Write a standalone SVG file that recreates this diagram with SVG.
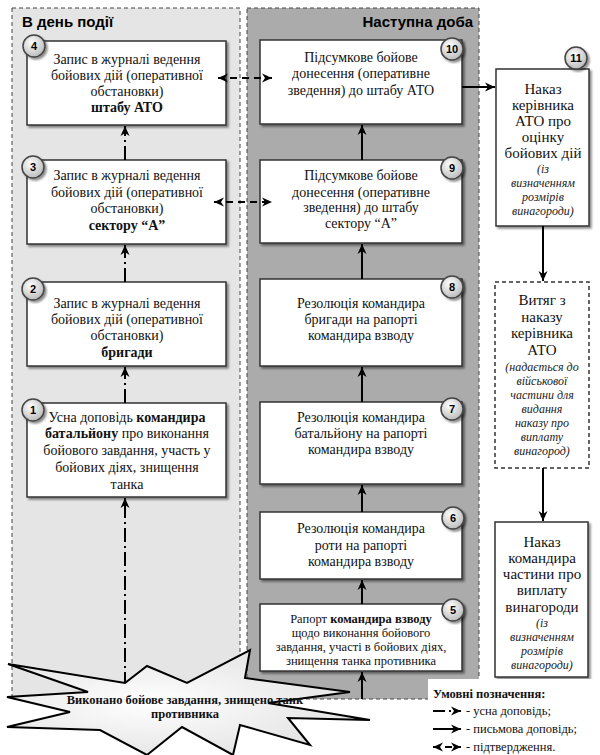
<svg xmlns="http://www.w3.org/2000/svg" width="600" height="755" viewBox="0 0 600 755">
<defs>
  <filter id="sh" x="-10%" y="-10%" width="125%" height="125%">
    <feDropShadow dx="2" dy="2" stdDeviation="1.2" flood-color="#000" flood-opacity="0.45"/>
  </filter>
  <radialGradient id="cg" cx="40%" cy="35%" r="70%">
    <stop offset="0" stop-color="#ffffff"/>
    <stop offset="1" stop-color="#b8b8b8"/>
  </radialGradient>
  <radialGradient id="bg" cx="40%" cy="50%" r="60%">
    <stop offset="0" stop-color="#ffffff"/>
    <stop offset="1" stop-color="#e2e2e2"/>
  </radialGradient>
  <marker id="ah" viewBox="0 0 10 10" refX="10" refY="5" markerWidth="10" markerHeight="10" markerUnits="userSpaceOnUse" orient="auto-start-reverse">
    <path d="M0,0.5 L10,5 L0,9.5 L3,5 Z" fill="#000"/>
  </marker>
  <style>
    .panel { stroke: #444; stroke-width: 1; stroke-dasharray: 4 3; }
    .box { fill: #fff; stroke: #333; stroke-width: 1.5; filter: url(#sh); }
    .dbox { fill: #fff; stroke: #333; stroke-width: 1.5; stroke-dasharray: 4 3; }
    .num circle { fill: url(#cg); stroke: #444; stroke-width: 1.5; filter: url(#sh); }
    .num text { font-family: "Liberation Sans", Arial, sans-serif; font-weight: bold; font-size: 11px; text-anchor: middle; fill: #000; }
    .t { font-size: 14px; text-anchor: middle; fill: #111; }
    .ts { font-size: 12.5px; text-anchor: middle; fill: #111; }
    .tb { font-size: 15px; text-anchor: middle; fill: #111; }
    .ti { font-size: 12px; font-style: italic; text-anchor: middle; fill: #222; }
    .b { font-weight: bold; }
    .hd { font-family: "Liberation Sans", Arial, sans-serif; font-weight: bold; font-size: 15px; fill: #000; }
    .solid { stroke: #000; stroke-width: 2; fill: none; marker-end: url(#ah); }
    .dd { stroke: #000; stroke-width: 2; fill: none; stroke-dasharray: 14 4 2 4; marker-end: url(#ah); }
    .dsh { stroke: #000; stroke-width: 2; fill: none; stroke-dasharray: 7 5; marker-end: url(#ah); marker-start: url(#ah); }
    .lg { font-size: 12.5px; fill: #111; }
  </style>
</defs>

<g id="panels">
  <rect x="12" y="8" width="228" height="691" fill="#e5e5e5" class="panel"/>
  <rect x="247" y="8" width="232" height="691" fill="#ababab" class="panel"/>
  <text x="22" y="27" class="hd">В день події</text>
  <text x="473" y="27" class="hd" text-anchor="end">Наступна доба</text>
</g>

<g font-family="'Liberation Serif', Tinos, 'Times New Roman', 'DejaVu Serif', serif">
<g id="node4">
  <rect x="27" y="41" width="199" height="84" class="box"/>
  <text class="t"><tspan x="127" y="64">Запис в журналі ведення</tspan><tspan x="127" y="80">бойових дій (оперативної</tspan><tspan x="127" y="96">обстановки)</tspan><tspan x="127" y="112" class="b">штабу АТО</tspan></text>
  <g class="num"><circle cx="34" cy="46" r="11"/><text x="34" y="50">4</text></g>
</g>

<g id="node3">
  <rect x="27" y="160" width="199" height="84" class="box"/>
  <text class="t"><tspan x="127" y="180">Запис в журналі ведення</tspan><tspan x="127" y="197">бойових дій (оперативної</tspan><tspan x="127" y="213">обстановки)</tspan><tspan x="127" y="230" class="b">сектору “А”</tspan></text>
  <g class="num"><circle cx="33" cy="167" r="11"/><text x="33" y="171">3</text></g>
</g>

<g id="node2">
  <rect x="27" y="282" width="199" height="84" class="box"/>
  <text class="t"><tspan x="127" y="308">Запис в журналі ведення</tspan><tspan x="127" y="324">бойових дій (оперативної</tspan><tspan x="127" y="340">обстановки)</tspan><tspan x="127" y="357" class="b">бригади</tspan></text>
  <g class="num"><circle cx="33" cy="289" r="11"/><text x="33" y="293">2</text></g>
</g>

<g id="node1">
  <rect x="27" y="403" width="199" height="94" class="box"/>
  <text class="t"><tspan x="127" y="422">Усна доповідь <tspan class="b">командира</tspan></tspan><tspan x="127" y="438"><tspan class="b">батальйону</tspan> про виконання</tspan><tspan x="127" y="455">бойового завдання, участь у</tspan><tspan x="127" y="472">бойових діях, знищення</tspan><tspan x="127" y="489">танка</tspan></text>
  <g class="num"><circle cx="33" cy="410" r="11"/><text x="33" y="414">1</text></g>
</g>

<g id="node10">
  <rect x="260" y="40" width="202" height="84" class="box"/>
  <text class="t"><tspan x="361" y="62">Підсумкове бойове</tspan><tspan x="361" y="78">донесення (оперативне</tspan><tspan x="361" y="95">зведення) до штабу АТО</tspan></text>
  <g class="num"><circle cx="452" cy="49" r="11"/><text x="452" y="53">10</text></g>
</g>

<g id="node9">
  <rect x="260" y="160" width="202" height="83" class="box"/>
  <text class="t"><tspan x="361" y="180">Підсумкове бойове</tspan><tspan x="361" y="197">донесення (оперативне</tspan><tspan x="361" y="212">зведення) до штабу</tspan><tspan x="361" y="228">сектору “А”</tspan></text>
  <g class="num"><circle cx="452" cy="168" r="11"/><text x="452" y="172">9</text></g>
</g>

<g id="node8">
  <rect x="260" y="279" width="202" height="87" class="box"/>
  <text class="t"><tspan x="361" y="308">Резолюція командира</tspan><tspan x="361" y="324">бригади на рапорті</tspan><tspan x="361" y="340">командира взводу</tspan></text>
  <g class="num"><circle cx="452" cy="287" r="11"/><text x="452" y="291">8</text></g>
</g>

<g id="node7">
  <rect x="260" y="402" width="202" height="82" class="box"/>
  <text class="t"><tspan x="361" y="422">Резолюція командира</tspan><tspan x="361" y="438">батальйону на рапорті</tspan><tspan x="361" y="454">командира взводу</tspan></text>
  <g class="num"><circle cx="452" cy="409" r="11"/><text x="452" y="413">7</text></g>
</g>

<g id="node6">
  <rect x="260" y="512" width="202" height="67" class="box"/>
  <text class="t"><tspan x="361" y="533">Резолюція командира</tspan><tspan x="361" y="550">роти на рапорті</tspan><tspan x="361" y="566">командира взводу</tspan></text>
  <g class="num"><circle cx="453" cy="518" r="11"/><text x="453" y="522">6</text></g>
</g>

<g id="node5">
  <rect x="260" y="604" width="202" height="67" class="box"/>
  <text class="ts"><tspan x="361" y="623">Рапорт <tspan class="b">командира взводу</tspan></tspan><tspan x="361" y="637">щодо виконання бойового</tspan><tspan x="361" y="651">завдання, участі в бойових діях,</tspan><tspan x="361" y="665">знищення танка противника</tspan></text>
  <g class="num"><circle cx="453" cy="610" r="11"/><text x="453" y="614">5</text></g>
</g>

<g id="node11">
  <rect x="496" y="69" width="93" height="157" class="box"/>
  <text class="tb"><tspan x="543" y="94">Наказ</tspan><tspan x="543" y="110">керівника</tspan><tspan x="543" y="126">АТО про</tspan><tspan x="543" y="142">оцінку</tspan><tspan x="543" y="158">бойових дій</tspan></text>
  <text class="ti"><tspan x="543" y="173">(із</tspan><tspan x="543" y="187">визначенням</tspan><tspan x="543" y="201">розмірів</tspan><tspan x="543" y="215">винагороди)</tspan></text>
  <g class="num"><circle cx="576" cy="58" r="11"/><text x="576" y="62">11</text></g>
</g>

<g id="extract">
  <rect x="495" y="282" width="94" height="186" class="dbox"/>
  <text class="tb"><tspan x="542" y="305">Витяг з</tspan><tspan x="542" y="322">наказу</tspan><tspan x="542" y="338">керівника</tspan><tspan x="542" y="355">АТО</tspan></text>
  <text class="ti"><tspan x="542" y="371">(надається до</tspan><tspan x="542" y="385">військової</tspan><tspan x="542" y="399">частини для</tspan><tspan x="542" y="413">видання</tspan><tspan x="542" y="427">наказу про</tspan><tspan x="542" y="441">виплату</tspan><tspan x="542" y="455">винагород)</tspan></text>
</g>

<g id="order">
  <rect x="495" y="522" width="93" height="155" class="box"/>
  <text class="tb"><tspan x="542" y="547">Наказ</tspan><tspan x="542" y="563">командира</tspan><tspan x="542" y="579">частини про</tspan><tspan x="542" y="595">виплату</tspan><tspan x="542" y="612">винагороди</tspan></text>
  <text class="ti"><tspan x="542" y="627">(із</tspan><tspan x="542" y="641">визначенням</tspan><tspan x="542" y="655">розмірів</tspan><tspan x="542" y="669">винагороди)</tspan></text>
</g>

<g id="connectors">
  <line x1="125" y1="160" x2="125" y2="126" class="dd"/>
  <line x1="125" y1="282" x2="125" y2="245" class="dd"/>
  <line x1="125" y1="403" x2="125" y2="367" class="dd"/>
  <line x1="125" y1="686" x2="125" y2="498" class="dd"/>
  <line x1="362" y1="160" x2="362" y2="125" class="solid"/>
  <line x1="362" y1="279" x2="362" y2="244" class="solid"/>
  <line x1="362" y1="402" x2="362" y2="367" class="solid"/>
  <line x1="362" y1="512" x2="362" y2="485" class="solid"/>
  <line x1="362" y1="604" x2="362" y2="580" class="solid"/>
  <line x1="362" y1="699" x2="362" y2="672" class="solid"/>
  <line x1="462" y1="87" x2="495" y2="87" class="solid"/>
  <line x1="543" y1="226" x2="543" y2="281" class="solid"/>
  <line x1="543" y1="468" x2="543" y2="521" class="solid"/>
  <line x1="218" y1="78" x2="272" y2="78" class="dsh"/>
  <line x1="214" y1="202" x2="272" y2="202" class="dsh"/>
</g>

<g id="burst">
  <polygon points="8,664 125,683 147,666 187,683 250,650 245,678 350,692 268,703 370,720 288,718 310,745 240,725 233,755 182,727 147,755 100,730 7,727 70,712 7,697 88,692" fill="url(#bg)" stroke="#000" stroke-width="2" stroke-linejoin="miter"/>
  <text class="ts b"><tspan x="185" y="704">Виконано бойове завдання, знищено танк</tspan><tspan x="185" y="718">противника</tspan></text>
</g>

<g id="legend">
  <rect x="428" y="679" width="172" height="76" fill="#fff"/>
  <text x="433" y="698" class="lg b" font-size="15">Умовні позначення:</text>
  <line x1="433" y1="711" x2="461" y2="711" stroke="#000" stroke-width="2" stroke-dasharray="12 4 2 4" marker-end="url(#ah)"/>
  <text x="466" y="715" class="lg">- усна доповідь;</text>
  <line x1="433" y1="729" x2="461" y2="729" class="solid"/>
  <text x="466" y="733" class="lg">- письмова доповідь;</text>
  <line x1="433" y1="747" x2="461" y2="747" class="dsh" stroke-dasharray="5 4"/>
  <text x="466" y="751" class="lg">- підтвердження.</text>
</g>
</g>
</svg>
